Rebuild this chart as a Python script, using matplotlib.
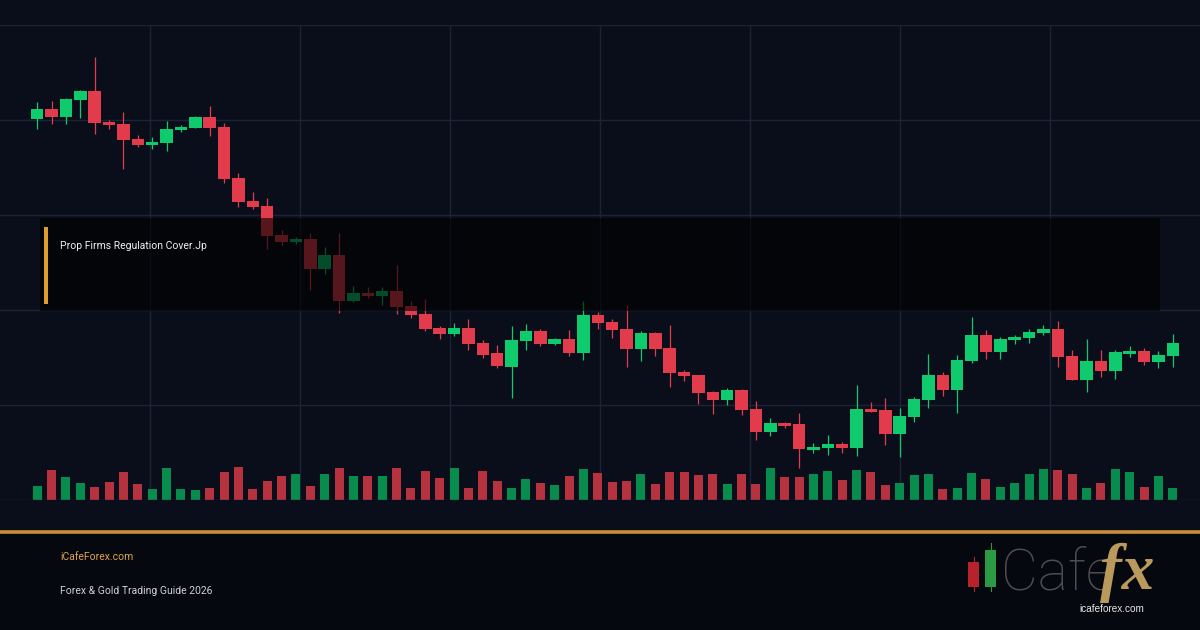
import matplotlib
matplotlib.use("Agg")
import matplotlib.pyplot as plt
from matplotlib.patches import Rectangle
from matplotlib.lines import Line2D
import numpy as np

# ---------------- data ----------------
opens = [481, 491, 483, 500, 509, 478.3, 476, 461.3, 454.7, 457,
         470, 472.3, 483.3, 472.7, 422.3, 399, 394.3, 365, 358, 361,
         331, 345, 299.3, 307, 304, 309.3, 294, 286, 272, 266,
         272, 257, 247, 233, 259, 269, 256, 261, 247, 285,
         278, 271, 251, 267.3, 252, 228, 225, 208, 200.3, 210,
         191, 168.3, 177, 176, 150.3, 152.3, 156, 152.3, 191, 190,
         166, 183.3, 200, 225, 210, 239, 265, 248, 260, 262,
         267, 271, 244, 220, 239, 229, 246, 249, 238, 244]
closes = [491, 483.3, 501, 509.3, 477.3, 475, 460, 454.7, 458, 471,
          473.3, 483.3, 472, 421.3, 398.3, 393.3, 364.3, 358, 361, 331,
          345, 299.3, 307, 304, 309.3, 293, 285, 271, 266, 272,
          256, 245, 234, 260, 269, 256, 261, 247, 285, 277.3,
          270, 251, 267.3, 251, 227.3, 224.3, 207.3, 200.3, 210, 190,
          168.3, 177, 174, 151, 153.3, 156, 152.3, 191, 188.3, 166,
          184, 201, 225, 210, 240, 265, 248, 261, 263.3, 268,
          271, 243.3, 220, 239, 229, 248, 249, 238, 245, 257]
highs = [498.3, 499, 502, 510, 543.3, 480, 488.3, 465, 463, 479.3,
         475, 484, 494, 477, 427.3, 408, 402, 370, 363.3, 367.3,
         353.3, 367.3, 314, 312.7, 312.7, 335, 299, 301.3, 274, 276.7,
         281, 260, 255, 274, 276, 271, 262.3, 270, 299, 288,
         281.3, 295, 269, 268.3, 275, 230, 225, 209.3, 212, 211,
         199, 182, 177.7, 187, 157, 165, 158.3, 215, 198.3, 201.7,
         191.7, 202.7, 246, 228, 245, 283.3, 270, 263.3, 265.3, 270.7,
         275.3, 279.3, 250, 261, 250, 250, 254, 252, 249, 266.3]
lows = [471, 476, 476, 482, 466, 471.3, 431, 453.3, 451, 449.3,
        468.3, 472, 464, 417, 393.3, 391, 351, 355, 356, 310,
        326, 286.7, 298.3, 302, 295, 286, 282.3, 269, 261, 264,
        250, 242, 232, 202, 250, 254, 255, 244, 240, 271,
        262.3, 233.3, 239.3, 244.3, 213.3, 219.3, 196, 186, 195, 185,
        160, 164.3, 172.3, 132.3, 147.3, 145.3, 147, 144.3, 188, 155,
        143.3, 178.3, 192.3, 204, 187.3, 237.3, 241, 241, 256.3, 257.3,
        265.3, 233.3, 220, 208.3, 223.3, 221.3, 243.3, 235, 232, 233]
volumes = [1400, 3000, 2300, 1700, 1300, 1800, 2800, 1600, 1100, 3200,
           1100, 1000, 1200, 2800, 3300, 1100, 1900, 2400, 2600, 1400,
           2600, 3200, 2400, 2400, 2400, 3200, 1200, 2900, 2200, 3200,
           1200, 2900, 1900, 1200, 2100, 1700, 1500, 2400, 3100, 2700,
           1800, 1900, 2600, 1600, 2800, 2800, 2500, 2600, 1600, 2600,
           1600, 3200, 2300, 2300, 2600, 2900, 2000, 3000, 2800, 1500,
           1700, 2500, 2600, 1100, 1200, 2700, 2100, 1300, 1700, 2600,
           3100, 3000, 2600, 1200, 1700, 3100, 2800, 1300, 2400, 1200]
grid_prices = [575, 480, 385, 290, 195, 100]

title_text = "Prop Firms Regulation Cover.Jp"
site_text = "iCafeForex.com"
sub_text = "Forex & Gold Trading Guide 2026"

# ---------------- style ----------------
W, H = 1200, 630
BG = "#0a0e1a"
FOOT = "#06080f"
GRID = "#1d2335"
UP = "#0fcb6e"
DN = "#e23b4b"
UPV = "#088c4e"
DNV = "#b6323e"
ORANGE = "#c8903a"

def fx(px):
    return px / W

def fy(py):
    return 1 - py / H

fig = plt.figure(figsize=(12, 6.3), dpi=100, facecolor=FOOT)
fig.add_artist(Rectangle((0, fy(531)), 1, 531 / H, transform=fig.transFigure,
                         facecolor=BG, edgecolor="none", zorder=-10))

ax_v = fig.add_axes([0, fy(500), 1, 475 / H])
ax = fig.add_axes([0, fy(500), 1, 475 / H])
ax_v.set_zorder(1)
ax.set_zorder(2)
for a in (ax, ax_v):
    a.patch.set_visible(False)
    a.axis("off")

n = len(opens)
x = np.arange(n)
step = 14.375
x0 = -37.2 / step
x1 = x0 + W / step
ax.set_xlim(x0, x1)
ax_v.set_xlim(x0, x1)
ax.set_ylim(100, 575)
ax_v.set_ylim(0, 47500)

# grid (drawn beneath volume)
for p in grid_prices:
    ax.axhline(p, color=GRID, lw=1.0, zorder=0)
for k in range(1, 8):
    ax_v.axvline(x0 + (k / 8) * (x1 - x0), color=GRID, lw=1.0, zorder=0)

o = np.array(opens); c = np.array(closes)
hi = np.array(highs); lo = np.array(lows)
up = c >= o
cols = np.where(up, UP, DN)
vcols = np.where(up, UPV, DNV)

ax_v.bar(x, volumes, width=0.62, color=vcols, zorder=2)

ax.vlines(x, lo, hi, colors=cols, linewidth=0.9, zorder=3)
body_bottom = np.minimum(o, c)
body_h = np.maximum(np.abs(c - o), 1.5)
ax.bar(x, body_h, bottom=body_bottom, width=0.87, color=cols, zorder=4)

# overlay box
fig.add_artist(Rectangle((fx(40), fy(310.5)), 1120 / W, 92.5 / H,
                         transform=fig.transFigure, facecolor="black",
                         alpha=0.62, edgecolor="none", zorder=5))
fig.add_artist(Rectangle((fx(43.5), fy(304)), 4 / W, 77 / H,
                         transform=fig.transFigure, facecolor="#dc9c2e",
                         edgecolor="none", zorder=6))
fig.text(fx(60), fy(249), title_text, color="#f0f0f0", fontsize=7.5,
         family="Roboto", va="baseline", ha="left", zorder=7)

# separator line
fig.add_artist(Line2D([0, 1], [fy(532), fy(532)], transform=fig.transFigure,
                      color=ORANGE, lw=2.6, zorder=6))

# footer texts
fig.text(fx(60), fy(560), site_text, color="#e0a24e", fontsize=7.5,
         family="Roboto", va="baseline", ha="left")
fig.text(fx(60), fy(594), sub_text, color="#cfd0d4", fontsize=7.5,
         family="Roboto", va="baseline", ha="left")

# logo
fig.add_artist(Line2D([fx(973.5)] * 2, [fy(557), fy(591)], transform=fig.transFigure,
                      color="#b8232b", lw=0.8))
fig.add_artist(Rectangle((fx(968), fy(587)), 11 / W, 25 / H, transform=fig.transFigure,
                         facecolor="#b8232b", edgecolor="none"))
fig.add_artist(Line2D([fx(990.5)] * 2, [fy(543), fy(591)], transform=fig.transFigure,
                      color="#2a9a45", lw=0.8))
fig.add_artist(Rectangle((fx(985), fy(587)), 11 / W, 37 / H, transform=fig.transFigure,
                         facecolor="#2a9a45", edgecolor="none"))
fig.text(fx(1001), fy(590), "Cafe", color="#4e4e52", fontsize=41,
         family="Roboto", fontweight="light", va="baseline", ha="left")
fig.text(fx(1100), fy(589), "fx", color="#b99a5c", fontsize=47,
         family="Liberation Serif", fontweight="bold", fontstyle="italic",
         va="baseline", ha="left")
fig.text(fx(1112), fy(612), "icafeforex.com", color="#e8e8e8", fontsize=7.2,
         family="Liberation Sans", va="baseline", ha="center")

fig.savefig("out.png", dpi=100, facecolor=fig.get_facecolor())
